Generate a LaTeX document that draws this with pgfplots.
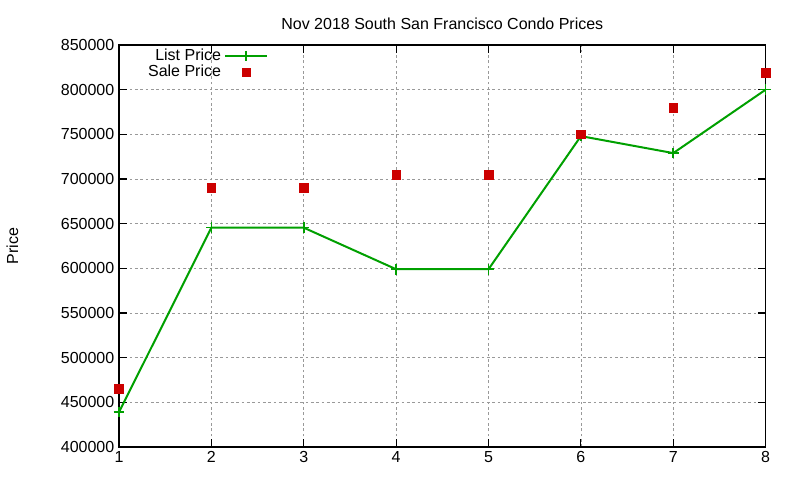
\documentclass[border=0pt]{standalone}
\usepackage{pgfplots}
\pgfplotsset{compat=1.18}
\usepackage{fontspec}
\setmainfont{Liberation Sans}
\definecolor{gpgreen}{RGB}{0,160,0}
\definecolor{gpred}{RGB}{204,0,0}
\begin{document}
\begin{tikzpicture}
\begin{axis}[
  scale only axis,
  width=485pt, height=301.5pt,
  at={(0,0)}, anchor=south west,
  xmin=1, xmax=8, ymin=400000, ymax=850000,
  xtick={1,...,8},
  ytick={400000,450000,...,850000},
  scaled y ticks=false,
  /pgf/number format/assume math mode=true,
  yticklabel={\pgfmathprintnumber[fixed,1000 sep={}]{\tick}},
  xticklabel={\pgfmathprintnumber{\tick}},
  tick align=inside,
  major tick length=6pt,
  grid=major,
  major grid style={dash pattern=on 2pt off 2pt, gray!80, line width=0.6pt},
  axis line style={line width=0.8pt},
  tick style={black, line width=0.8pt},
  font=\fontsize{12}{14}\selectfont,
  ticklabel style={font=\fontsize{12}{14}\selectfont},
  title={Nov 2018 South San Francisco Condo Prices},
  title style={font=\fontsize{12}{14}\selectfont, yshift=2pt},
  ylabel={Price},
  every axis y label/.style={at={(rel axis cs:0,0.5)}, rotate=90, anchor=center, yshift=80pt, font=\fontsize{12}{14}\selectfont},
  legend plot pos=right,
  legend cell align=right,
  legend style={draw=none, fill=none, at={(0.231,0.993)}, anchor=north east,
    font=\fontsize{12}{13}\selectfont, row sep=0pt, inner sep=0pt,
    nodes={text height=9pt, text depth=2.5pt, inner ysep=0.25pt, inner xsep=2.5pt}},
]
\addplot[gpgreen, line width=1.5pt, mark=+, mark size=4pt, mark options={line width=1.2pt},
  legend image code/.code={\draw[mark repeat=2,mark phase=2] plot coordinates {(0cm,0cm) (0.55cm,0cm) (1.1cm,0cm)};}]
  coordinates {(1,439000) (2,645500) (3,645500) (4,599000) (5,599000) (6,748000) (7,729000) (8,800000)};
\addlegendentry{List Price}
\addplot[only marks, mark=square*, mark size=3.2pt, color=gpred,
  legend image code/.code={\draw plot coordinates {(0.55cm,0cm)};}]
  coordinates {(1,465000) (2,690000) (3,690000) (4,705000) (5,705000) (6,750000) (7,780000) (8,819000)};
\addlegendentry{Sale Price}
\end{axis}
\path[use as bounding box] (-89.25pt,-24.75pt) rectangle (510.75pt,335.25pt);
\end{tikzpicture}
\end{document}
